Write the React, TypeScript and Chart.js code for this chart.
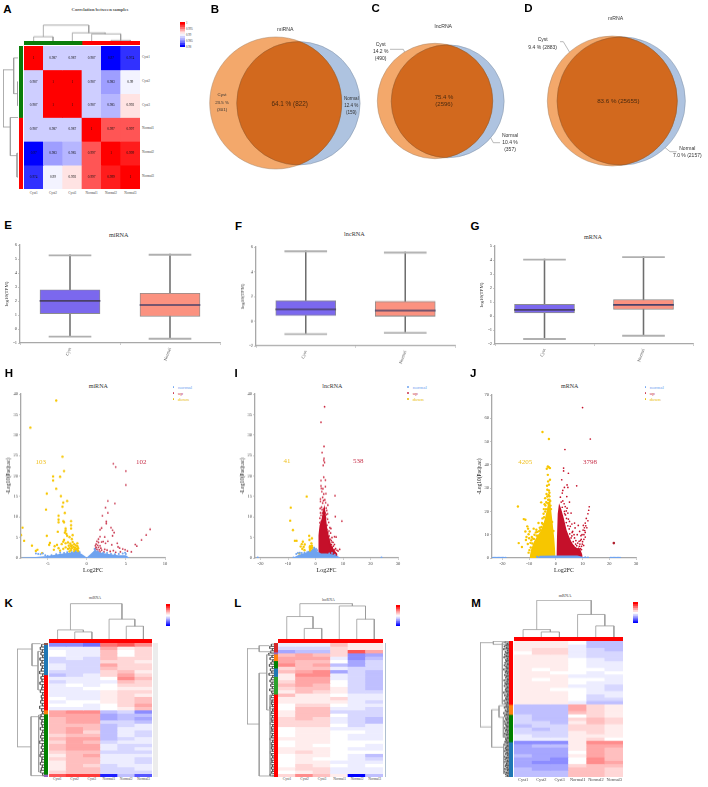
import React, { useEffect, useRef } from "react";
import { Chart, registerables } from "chart.js";

Chart.register(...registerables);

const SERIF = "'Liberation Serif'";
const SANS = "'Liberation Sans'";
const BLUE = "#6FA3EF";
const RED = "#C5102A";
const YEL = "#F7C600";

/* ---------- A: correlation ---------- */
const sampleNames = ["Cyst1", "Cyst2", "Cyst3", "Normal1", "Normal2", "Normal3"];
const corrRows = [
  [1, 0.987, 0.987, 0.987, 0.97, 0.974],
  [0.987, 1, 1, 0.987, 0.983, 0.99],
  [0.987, 1, 1, 0.987, 0.985, 0.992],
  [0.987, 0.987, 0.987, 1, 0.997, 0.997],
  [0.97, 0.983, 0.985, 0.997, 1, 0.999],
  [0.974, 0.99, 0.992, 0.997, 0.999, 1],
];
const corrBarValues = [[1], [0.998], [0.996], [0.994], [0.992], [0.99], [0.987], [0.984], [0.98], [0.975], [0.97]];
const corrBarTicks = ["1", "0.995", "0.99", "0.985", "0.98"];
const corrTopTree = [[12, 0.5, 1.5, 0, 0], [23, 2.5, 4.2, 0, 20], [20, 3.5, 5, 0, 1], [2, 4.5, 5.5, 0, 0], [45, 1, 3.35, 12, 23]];
const corrLeftTree = [[1, 1.5, 2.5, 0, 0], [13, 0.5, 2, 0, 1], [3, 4.5, 5.5, 0, 0], [23, 3, 4.6, 0, 3], [45, 1, 3.4, 13, 23]];

/* ---------- B C D: venn ---------- */
const miCounts = [301, 822, 159];
const lncCounts = [490, 2596, 357];
const mCounts = [2883, 25655, 2157];
const miCenters = [[70.7, 83], [93.4, 83.3]];
const lncCenters = [[63, 81], [75.7, 81.3]];
const mCenters = [[72.3, 81], [81.2, 81]];
const lncLeaders = [[[18, 29.3], [31.3, 29.3], [34, 35]], [[116.3, 113.3], [121.3, 122.7], [128, 122.7]]];
const mLeaders = [[[20, 21.7], [23.3, 21.7], [30.7, 34]], [[124, 126.7], [130, 131.7], [136.7, 131.7]]];

/* ---------- E F G: box plots [min,q1,med,q3,max] ---------- */
const boxGroups = ["Cyst", "Normal"];
const miBox = [[-0.5, 1.1, 2.05, 2.8, 5.3], [-0.65, 0.9, 1.75, 2.55, 5.35]];
const lncBox = [[-1.0, 0.45, 1.0, 1.65, 5.7], [-0.9, 0.4, 0.9, 1.6, 5.6]];
const mBox = [[-1.6, 0.22, 0.47, 0.83, 4.07], [-1.37, 0.47, 0.83, 1.17, 4.25]];

/* ---------- H I J: volcano ---------- */
const hDown = [[-3.9,38.4],[-7.2,31.8],[-3.1,24.7],[-2.9,21.2],[-4.3,19.9],[-4.3,18.9],[-3.4,19.8],[-3.9,16.9],[-5.1,15.7],[-3.3,15.1],[-2.5,13.9],[-3,13.5],[-3.1,12.5],[-5.2,11.8],[-2.8,11],[-3.6,10.3],[-3.6,9.4],[-2,9],[-3,9],[-2.9,8.7],[-3.6,8.7],[-2,8],[-2,7.2],[-2.7,7.2],[-2.7,6.7],[-3.7,6.4],[-5.1,5.4],[-8.2,7.4],[-8.4,5.6],[-8,4.2],[-7,3],[-6.5,1.7],[-6.3,2],[-4.7,3.7],[-4.8,3.2],[-4.1,2.9],[-3.8,3.2],[-5.7,1.2],[-2.8,6.2],[-2.6,5.9],[-2.5,5.4],[-2.2,5.1],[-1.8,5.6],[-1.9,4.6],[-2.9,4.4],[-3,4],[-3.2,3.4],[-2.7,3.6],[-2.4,3.8],[-2.1,3.5],[-1.8,3.9],[-1.6,3.4],[-1.4,3.1],[-2.3,3],[-2,2.9],[-1.9,2.4],[-1.7,2.7],[-1.5,2.5],[-1.3,2.3],[-1.2,2],[-1.1,1.7],[-1.4,1.9],[-1.6,1.6],[-2,1.9],[-2.4,2.2],[-2.7,2.6],[-3,2.2],[-3.4,1.8],[-3.6,2.4],[-4.2,2],[-1.2,2.9],[-1.1,2.4],[-1.5,1.4],[-2.2,1.6],[-1.3,1.3],[-1.05,1.4],[-1.9,3.1],[-2.2,2.4],[-1.6,2.1],[-1.2,3.6]];
const hUp = [[3.4,23],[3.7,22.2],[5,21.2],[5,17.8],[2.7,13.9],[3.6,13.3],[2.4,12.3],[2.7,11],[2,10.3],[2.5,8.9],[2.5,8.4],[8.1,7],[7.6,5.6],[7,4.4],[6.2,3.3],[6.4,2.9],[5.2,1.7],[1.9,7.3],[1.7,6.9],[3.1,7.4],[3.3,6.8],[3.5,6.2],[3.3,5.4],[1.7,5.2],[2.3,5.1],[1.5,4.6],[1.3,4.1],[1.5,3.8],[1.9,3.9],[2.1,4],[2.7,4.1],[2.4,3.6],[3.2,3.2],[3.9,3.6],[4,2.7],[4.2,2.4],[4.6,2.2],[4.9,2],[1.2,3.4],[1.4,3.1],[1.1,3],[1.7,3],[1.2,2.6],[1.5,2.6],[1.8,2.4],[1.1,2.3],[1.3,2.1],[1.6,2],[1.9,1.9],[2.3,2.1],[2.6,1.9],[3,1.6],[3.4,1.8],[1.1,1.7],[1.4,1.6],[1.7,1.5],[2.2,1.5],[3.7,1.4],[4.3,1.5],[5.7,1.5]];
const hNormal = [[-6.5,1.1],[-6.2,1],[-5.9,0.9],[-5.6,1.1],[-5.3,0.7],[-5,0.5],[-4.5,0.7],[-3.9,0.9],[-3.4,1.3],[-2.9,1.2],[-2.5,1.4],[-1.9,1.4],[-1.4,1.6],[-0.9,1.4],[1,2.2],[1.1,1.9],[1.4,1.6],[2.1,1.3],[2.6,1.2],[3.1,1],[3.6,0.9],[4.1,1],[4.6,1.1],[4.9,1.3],[5,1]];
const hBand = [[-8.3,0.15],[-6.5,0.25],[-5,0.5],[-4,0.8],[-3.5,1],[-2.5,1.2],[-1.5,1.5],[-1,1.4],[-0.5,0.8],[0,0.15],[0.5,1],[1,1.9],[1.5,1.5],[2,1.2],[3,0.9],[4,0.7],[5,0.7],[5.4,0.15]];

const iDown = [[-3.2,15],[-9,12.3],[-9.2,9.1],[-8.2,6.8],[-7.5,4.2],[-6.9,4.2],[-4.6,4],[-2.3,5.4],[-1.3,4.8],[-2.2,4.4],[-5,3.4],[-3.9,3.3],[-4.3,2.7],[-5.4,2.8],[-4.8,2.2],[-2,2.9],[-1.3,3],[-1.6,2.4],[-2,2],[-1.3,1.7],[-2.3,1.5],[-1,2.1],[-1.7,1.3],[-5.9,1.1],[-1.5,3.6],[-1.8,1.8],[-1.2,2.6],[-1.1,1.4],[-1.5,1.6],[-2.1,2.5],[-4,1.9]];
const iUp = [[3.3,36.9],[2,33.1],[3.1,27.2],[2.4,25.7],[3.1,24.3],[3,23.8],[3.3,23.3],[2.8,22.6],[2,18.9],[3.6,19],[2,17.6],[3.6,17.4],[2.3,16.2],[7.1,15.2],[1.8,13.8],[4.5,12.9],[7.2,10.1],[9.6,9],[6.9,5.2],[7.5,5.1],[8.8,2.1],[8.2,1.7],[5.4,2.8],[3,19.7],[2.1,17],[3,15.6],[2.6,14.8],[3.4,14.2],[1.8,14.4],[2.6,13.4],[3.7,13.5],[4.1,11.6],[2.2,12.4],[3.1,12],[3.5,11],[2.5,11],[4,10.6],[3,10.5],[2,10.4],[3.7,9.8],[4.4,9.5],[4.8,8.7],[5.2,7.4],[4.2,8],[4.9,6.6],[5.5,6.1],[6,5],[5.7,4.3],[6.4,3.8],[6.9,3.3],[6.1,2.6],[7.3,2.3],[7.8,1.9],[5.8,3.3],[4.7,5.2],[2.1,9],[3.2,8.7],[4.1,7],[1.6,9.7],[1.7,12.1],[2.7,16.9],[3.8,15.7],[2.9,14],[2.4,11.8],[2.9,11.4],[3.5,10.2],[1.8,11],[1.6,8.6],[2,7.8],[4.5,6.2],[5,5.4],[5.3,4.6],[6.5,2.9],[7,2],[5,3.6],[6,3.9],[4.4,10.8],[5.6,7.2],[3.9,12.2]];
const iRedBlock = [[1,0.8],[1.03,5.5],[1.5,8],[2.2,9.5],[2.9,12],[3.3,13],[3.8,10],[4.2,7.5],[4.8,5.5],[5.5,3.6],[6,2.8],[7,1.8],[8,1]];
const iNormal = [[-21,0.1],[-8,0.1],[24,0.1],[-7,1],[-6.4,1.2],[-5.7,1.3],[-5,1.2],[-4,1.3],[-3,1.4],[-2.5,1.5],[-0.5,2.5],[0.2,2.2],[0.6,1.9],[5,1.1],[6,1.2],[7,0.8]];
const iBand = [[-8,0.15],[-6,0.8],[-4,1.2],[-2,1.5],[-1,2.2],[-0.3,2.6],[0.5,1.7],[2,1.1],[4,1.1],[6,0.9],[7.5,0.6],[9,0.15]];

const jDown = [[-5,54.1],[-2.6,51.1],[-14.2,22.1],[-13.9,6.4],[-12.7,4.7],[-11.4,11.4],[-12,16.7],[-11.4,16.4],[-10.7,13.6],[-10.4,12.6],[-9.8,11.4],[-8.3,12.6],[-7.3,12.1],[-5.5,23.9],[-4.2,23.1],[-4,25.7],[-3.2,26.4],[-2.7,27.1],[-3.2,29.3],[-2.9,32.9],[-2.2,33.6],[-3,35.7],[-2.2,38.6],[-3,39.3],[-2.6,39],[-3.4,38.3],[-3.7,21],[-5,17],[-6.5,15],[-7.5,11],[-9,9],[-10,8.5],[-10.5,6],[-9.5,6.5],[-11,9],[-8,10],[-6,13],[-5.2,15],[-4.6,19],[-2.4,25],[-2.6,29],[-2.1,24.5],[-3.6,24],[-4.5,21],[-10.2,10.2],[-9.2,7.6],[-8.7,8.4],[-7,11.2],[-6.8,9.6],[-5.8,12],[-11.2,7.7],[-2.4,26.5],[-2.9,25],[-3.1,23.5],[-2.5,23.6],[-2,22.5],[-1.8,21],[-4,20],[-4.4,17.5],[-4.8,14.5],[-5.4,13.3],[-6.3,11.5],[-7.2,9.6],[-8.2,8.2],[-8.8,6.2],[-9.4,4.5],[-9.9,3.4],[-10.2,2.3],[-3.3,31],[-2.6,31.5],[-2.4,28],[-3.5,27.5],[-3.9,22.5],[-1.4,15.5],[-0.9,11.6]];
const jDownBlock = [[-9.8,0.5],[-9.3,3.5],[-8.2,7],[-7,9.5],[-6,11],[-5,13.5],[-4.2,16.5],[-3.5,20],[-2.8,24],[-2.2,25],[-1.8,21],[-1.2,15],[-0.6,8.5],[-0.1,0.7]];
const jUp = [[10,64.6],[12.9,51.1],[3.4,46.6],[2.9,38.6],[2.9,37.4],[2.2,33.6],[4.7,36.4],[7.8,31],[4.2,31.4],[4.5,30.3],[3.2,30.3],[2.4,27.9],[2.6,29],[1.7,26.1],[4.1,26.4],[5.1,24],[2,24],[3.5,22.1],[4.2,21.4],[4.5,19.3],[3.2,20],[5.7,19.3],[5.1,15.7],[6,14.6],[7,15],[7.2,12.9],[8.4,14],[8,10],[8.9,11.4],[6.3,11.4],[5.7,8.6],[7,8.6],[8.5,4],[9,6],[9.5,8],[9.8,10],[10.2,12],[10.7,13],[11,15],[11.4,17],[12,19],[12.5,22],[12.3,20.5],[10.5,10],[11,11],[10,7],[9.6,5],[9.2,4],[10.5,8],[11,9],[10.3,14],[11.6,13],[12,16],[9.2,7.5],[8.8,5],[9.4,9.6],[6.5,7],[7.4,6],[7.8,5.3],[6,9.5],[5,12.5],[4,17],[3.6,18.5],[2.6,24.5],[3.1,23.3],[3.9,20.2],[4.7,16.7],[5.4,13.6],[6.1,11],[6.8,10],[7.5,7.5],[8.2,6.4],[8.7,7.2],[5.2,10.4],[4.5,13.8],[3.9,15.2],[3.3,19],[2.4,21.8],[10.8,11.8],[11.2,13.8],[9.9,6],[10.4,5.4],[9.6,3.6],[8.4,2.8],[7.7,3.9],[6.6,5.2],[5.8,6.4]];
const jUpBlock = [[0.2,0.8],[0.7,19],[1.2,23.5],[2,21],[3,17],[4,12],[5,9],[6,6.5],[7,5],[8,4.2],[8.6,4.5],[9.2,3.5],[10,1.2]];
const jOutlier = [[21.7,6.4]];
const jNormal = [[-23.5,0.1],[-23,0.1],[-22.5,0.1],[-22,0.1],[-21.5,0.1],[-21,0.1],[-20.5,0.1],[-20,0.1],[-19.5,0.1],[-18.8,0.1],[20.5,0.1],[21,0.1],[21.5,0.1],[22,0.1],[22.5,0.1],[23,0.1],[23.5,0.1],[24,0.1],[-7,0.5],[11,0.3],[12,0.2]];
const jBand = [[-7,0.15],[-6,1],[-1,1.1],[1,1.1],[8,1.1],[10,0.5],[11,0.15]];

/* ---------- K L M: expression heat maps (tenths of the colour range) ---------- */
const kRows = [
  [-5,-5,-6,6,7,5],[-1,-1,-1,4,1,2],[0,-1,-1,3,0,2],[0,-1,-1,3,0,2],[-2,-1,-2,3,2,2],[-2,-2,-2,2,2,1],[-1,-2,-2,4,2,2],[-1,-2,-2,3,2,2],[-2,-2,-2,2,3,1],[-3,-2,-1,2,4,2],
  [-1,-1,-1,0,5,3],[-2,-1,-1,-1,3,2],[-1,0,-1,0,2,2],[-1,-1,0,0,1,1],[-1,-1,-1,1,2,2],[-1,-1,-1,1,2,1],[0,-1,-1,1,2,3],[-1,0,0,1,2,3],[0,0,-1,0,2,4],[-1,-1,-1,0,1,3],
  [4,5,5,-3,-2,-5],[4,4,4,-4,-3,-3],[3,4,4,-4,-3,-4],[3,4,4,-2,-2,-3],[3,3,3,-3,-2,-1],[3,4,3,-3,-1,-1],[3,4,2,-3,-1,-2],[2,3,3,-3,-1,-2],[3,4,4,-3,-2,-1],[2,4,3,-2,-1,-1],
  [3,4,4,-1,-2,-2],[3,4,4,-1,-2,-1],[2,3,3,-2,-2,-2],[1,3,4,-1,-1,-1],[2,3,3,-1,-1,-2],[1,3,3,-1,-1,-2],[1,3,2,-2,-1,-1],[1,3,3,-2,-2,-1],[2,3,3,-2,-2,-2],[7,8,8,-9,-3,-7],
];
const lRows = [
  [-1,-1,-1,3,1,1],[-2,-2,-2,2,1,1],[-4,-3,-3,2,7,4],[3,4,3,2,-5,-4],[4,4,4,-1,-5,-3],[4,3,3,0,-4,-2],[5,3,4,-3,-4,-2],[2,3,3,-1,-2,-2],[3,4,5,-4,-2,-3],[1,5,5,-1,-2,-3],
  [1,4,4,-1,-2,-3],[2,4,4,0,-2,-3],[3,4,3,0,-2,-3],[2,3,3,1,-2,-3],[1,3,2,1,-2,-2],[3,1,1,0,-1,-1],[1,1,1,2,-1,-1],[1,1,1,1,-1,-2],[0,2,2,0,-1,-1],[0,3,3,-1,-1,-2],
  [1,3,3,-2,-2,-2],[1,3,3,0,-2,-2],[2,3,2,-1,-2,-3],[2,2,2,-1,-2,-3],[2,2,2,0,-2,-1],[0,1,1,-1,-1,-1],[0,1,1,0,0,-1],[0,1,1,0,-1,-1],[1,1,1,0,-1,-1],[0,1,1,0,0,0],
  [0,1,0,0,0,-1],[1,1,1,0,-1,-1],[1,2,1,0,0,0],[0,1,1,0,-1,-3],[0,1,0,0,-1,-2],[0,1,1,-1,-1,-1],[0,2,1,0,-1,0],[1,2,2,-1,-1,-1],[0,1,2,-1,-1,-1],[2,5,3,1,-10,-3],
];
const mRows = [
  [1,1,1,0,-3,-3],[1,1,1,-1,-3,-3],[1,2,2,-1,-2,-3],[0,2,2,-1,-2,-2],[1,1,1,-1,-2,-2],[1,1,1,0,-1,-2],[1,1,1,0,-1,-1],[1,1,1,0,-1,-1],[1,0,1,0,0,-1],[1,1,0,0,-1,0],
  [1,1,1,-1,-1,-1],[1,0,1,0,0,-1],[1,1,1,0,-1,-1],[1,1,1,-1,-1,-2],[1,1,0,0,-1,-2],[1,1,1,0,-1,-1],[1,1,1,0,-2,-1],[1,1,1,0,-2,-2],[1,1,1,-1,-3,-3],
  [-3,-3,-3,4,2,1],[-3,-3,-3,4,2,1],[-3,-3,-3,3,2,1],[-2,-3,-3,0,2,1],[-2,-3,-3,2,3,2],[-2,-2,-3,1,3,2],[-3,-2,-2,2,2,1],[-2,-3,-2,2,2,1],[-2,-2,-2,1,2,1],[-1,-2,-2,1,1,1],[-1,-1,-1,1,2,0],
  [-5,-5,-5,1,5,5],[-4,-3,-3,1,4,4],[-4,-4,-4,1,4,3],[-4,-4,-4,0,4,3],[-3,-4,-4,1,4,3],[-4,-4,-5,0,5,3],[-4,-5,-5,0,5,4],[-4,-4,-4,2,3,3],[-3,-4,-4,3,3,2],[-3,-3,-3,3,3,2],[-3,-3,-3,3,3,2],
];
const heatBarValues = [[10],[8],[6],[4],[2],[0],[-2],[-4],[-6],[-8],[-10]];
const kTop = [[21,1.5,2.5,0,0],[27,0.5,2,0,21],[38,4.5,5.5,0,0],[59,3.5,5,0,38],[105,1.25,4.25,27,59]];
const lTop = [[32,1.5,2.5,0,0],[68,0.5,2,0,32],[60,4.5,5.5,0,0],[100,3.5,5,0,60],[107,1.25,4.25,68,100]];
const mTop = [[15,1.5,2.5,0,0],[22,0.5,2,0,15],[33,4.5,5.5,0,0],[67,3.5,5,0,33],[109,1.25,4.25,22,67]];
const kLeft = [[81,1.8,31,36,39],[36,0.2,6.8,10,18],[18,2.5,14,8,8],[39,22,39.6,16,0],[16,21.5,38.5,8,8]];
const lLeft = [[82,1.7,24.2,45,45],[45,0.8,2.6,14,10],[45,9,39.7,22,0],[22,3.5,20,12,10],[12,15.5,39,3,3]];
const mLeft = [[87,0.5,25.9,47,52],[47,0.1,1,10,8],[20,0.5,19,8,8],[52,20.7,32,30,16],[30,19.5,23,6,17],[17,23,29,5,5],[16,31,40,5,5]];
const kTwigs = [7,11,5,9,4,12,6,10,5,8,13,4,9,6,12,5,7,11,4,8,6,10,5,13,7,4,9,12,6,8,5,11,4,7,10,6,13,5,8,4,9,12,6,7,11,5,8,10,4,6];
const lTwigs = [8,13,5,10,16,6,12,4,9,14,5,11,7,15,4,8,12,6,10,5,13,7,4,9,11,6,8,5,12,4,7,10,5,9,6,11,4,8,6,10,5,7,12,4,9,6,8,5,11,7,4,9,6,10,5,8,4,7,12,6];
const mTwigs = [12,5,9,14,7,16,4,11,6,13,8,15,5,10,7,12,4,14,9,6,16,8,11,5,13,7,10,4,15,6,12,8,14,5,9,11,7,16,4,13,6,10,8,15,5,12,7,9,14,4,11,6,16,8,13,5,10,7,15,4,12,9,6,14,8,11,5,13,7,16,4,10,8,12,6,15,5,9,11,7,13,6,10,4,14,8,12,5,16,7,9,11,6,13,4,15,8,10,5,12];
const kStrip = [0.5, 9, 10.5, 1.2, 18, 0.8];
const kStripColors = ["#8C564B", "#1F77B4", "#FF0000", "#FF7F0E", "#008000", "#9467BD"];
const lStrip = [2.7, 0.6, 2, 2.2, 2.5, 5.3, 24.7];
const lStripColors = ["#D62728", "#9467BD", "#FF7F0E", "#008000", "#1F77B4", "#2CA02C", "#FF0000"];
const mStrip = [19, 3, 8.2, 10.5];
const mStripColors = ["#FF0000", "#FF7F0E", "#008000", "#1F77B4"];

/* ---------- helpers ---------- */
const base = {
  responsive: false,
  maintainAspectRatio: false,
  animation: false,
  events: [],
  layout: { autoPadding: false },
  plugins: { legend: { display: false }, tooltip: { enabled: false } },
};
const pts = (a: number[][]) => a.map(([x, y]) => ({ x, y }));

const heatColor = (v: number) => {
  const t = Math.pow(Math.abs(v) / 10, 1.15);
  const c = Math.round(255 * (1 - t));
  return v >= 0 ? `rgb(255,${c},${c})` : `rgb(${c},${c},255)`;
};
const corrColor = (v: number) => {
  if (v >= 0.991) {
    const c = Math.round(255 * (1 - (v - 0.991) / 0.009));
    return `rgb(255,${c},${c})`;
  }
  const c = Math.round(255 * (1 - (0.991 - v) / 0.021));
  return `rgb(${c},${c},255)`;
};

function heatConfig(rows: number[][], color: (v: number) => string, plugins: any[] = []) {
  return {
    type: "bar",
    data: {
      labels: rows[0].map((_, i) => i),
      datasets: rows.map((r) => ({
        data: r.map(() => 1),
        backgroundColor: r.map(color),
        borderWidth: 0,
        barPercentage: 1,
        categoryPercentage: 1,
      })),
    },
    options: {
      ...base,
      scales: {
        x: { display: false, stacked: true },
        y: { display: false, stacked: true, min: 0, max: rows.length, reverse: true },
      },
    },
    plugins,
  };
}

function stripConfig(sizes: number[], colors: string[], horizontal: boolean) {
  const total = sizes.reduce((a, b) => a + b, 0);
  const value = { display: false, stacked: true, min: 0, max: total, reverse: !horizontal };
  const cat = { display: false, stacked: true };
  return {
    type: "bar",
    data: {
      labels: [""],
      datasets: sizes.map((s, i) => ({
        data: [s],
        backgroundColor: colors[i],
        borderWidth: 0,
        barPercentage: 1,
        categoryPercentage: 1,
      })),
    },
    options: {
      ...base,
      indexAxis: horizontal ? "y" : "x",
      scales: horizontal ? { x: value, y: cat } : { x: cat, y: value },
    },
  };
}

function treeConfig(
  brackets: number[][],
  side: "top" | "left",
  posMax: number,
  hMax: number,
  twigs: number[] = [],
) {
  const path: { x: number; y: number }[] = [];
  const put = (p: number, h: number) =>
    path.push(side === "top" ? { x: p, y: h } : { x: h, y: p });
  brackets.forEach(([h, p0, p1, h0, h1]) => {
    put(p0, h0);
    put(p0, h);
    put(p1, h);
    put(p1, h1);
    path.push({ x: NaN, y: NaN });
  });
  const twigPath: { x: number; y: number }[] = [];
  twigs.forEach((t, i) => {
    const p = ((i + 0.5) * posMax) / twigs.length;
    const q = ((i + 1.5) * posMax) / twigs.length;
    twigPath.push({ x: 0, y: p }, { x: t, y: p });
    if (i < twigs.length - 1) twigPath.push({ x: t, y: q });
  });
  const line = (data: any[], color: string, w: number) => ({
    data,
    showLine: true,
    pointRadius: 0,
    borderColor: color,
    borderWidth: w,
    tension: 0,
    clip: false,
    spanGaps: false,
  });
  const pos = { type: "linear", display: false, min: 0, max: posMax };
  const hgt = { type: "linear", display: false, min: 0, max: hMax };
  return {
    type: "scatter",
    data: { datasets: [line(path, "#9a9a9a", 0.8), line(twigPath, "#444", 0.6)] },
    options: {
      ...base,
      scales:
        side === "top"
          ? { x: pos, y: hgt }
          : { x: { ...hgt, reverse: true }, y: { ...pos, reverse: true } },
    },
  };
}

function vennConfig(
  counts: number[],
  centers: number[][],
  scale: number,
  w: number,
  h: number,
  leaders: number[][][] = [],
) {
  const [onlyA, both, onlyB] = counts;
  const rA = scale * Math.sqrt(onlyA + both);
  const rB = scale * Math.sqrt(onlyB + both);
  const lens = {
    id: "lens",
    afterDatasetsDraw(chart: any) {
      const sx = chart.scales.x;
      const sy = chart.scales.y;
      const ax = sx.getPixelForValue(centers[0][0]);
      const ay = sy.getPixelForValue(centers[0][1]);
      const bx = sx.getPixelForValue(centers[1][0]);
      const by = sy.getPixelForValue(centers[1][1]);
      const ctx = chart.ctx;
      ctx.save();
      ctx.beginPath();
      ctx.arc(ax, ay, rA, 0, Math.PI * 2);
      ctx.clip();
      ctx.beginPath();
      ctx.arc(bx, by, rB, 0, Math.PI * 2);
      ctx.fillStyle = "#D2691E";
      ctx.fill();
      ctx.strokeStyle = "#8a5a35";
      ctx.lineWidth = 0.5;
      ctx.stroke();
      ctx.restore();
      ctx.save();
      ctx.beginPath();
      ctx.arc(bx, by, rB, 0, Math.PI * 2);
      ctx.clip();
      ctx.beginPath();
      ctx.arc(ax, ay, rA, 0, Math.PI * 2);
      ctx.strokeStyle = "#8a5a35";
      ctx.lineWidth = 0.5;
      ctx.stroke();
      ctx.restore();
    },
  };
  return {
    type: "scatter",
    data: {
      datasets: [
        {
          data: [{ x: centers[0][0], y: centers[0][1] }],
          pointRadius: rA,
          pointBackgroundColor: "#F3A86B",
          pointBorderColor: "#a98a70",
          pointBorderWidth: 0.5,
          clip: false,
          order: 1,
        },
        {
          data: [{ x: centers[1][0], y: centers[1][1] }],
          pointRadius: rB,
          pointBackgroundColor: "#AEC3E0",
          pointBorderColor: "#7f8ea3",
          pointBorderWidth: 0.5,
          clip: false,
          order: 2,
        },
        ...leaders.map((l) => ({
          data: pts(l),
          showLine: true,
          pointRadius: 0,
          borderColor: "#8a8a8a",
          borderWidth: 0.6,
          order: 3,
        })),
      ],
    },
    options: {
      ...base,
      scales: {
        x: { type: "linear", display: false, min: 0, max: w },
        y: { type: "linear", display: false, min: 0, max: h, reverse: true },
      },
    },
    plugins: [lens],
  };
}

const AX = "#a8a8a8";
function axisLines(o: any) {
  return {
    border: { color: AX, width: o.bw ?? 1.3 },
    grid: { drawOnChartArea: false, color: AX, tickLength: 2, lineWidth: 0.6 },
  };
}

function boxConfig(box: number[][], yMin: number, yMax: number, step: number, l: number, b: number) {
  const yVals: number[] = [];
  for (let v = yMin; v <= yMax; v += step) yVals.push(v);
  const fills = ["#7B68EE", "#FB9280"];
  const bar = (data: any[], extra: any) => ({
    data,
    grouped: false,
    barPercentage: 1,
    categoryPercentage: 1,
    borderSkipped: false,
    ...extra,
  });
  return {
    type: "bar",
    data: {
      labels: boxGroups,
      datasets: [
        bar(box.map((r) => [r[2], r[2]]), { barThickness: 60, minBarLength: 1, backgroundColor: "#4a4068", order: 0 }),
        bar(box.map((r) => [r[1], r[3]]), { barThickness: 60, backgroundColor: fills, borderColor: "#8c8c8c", borderWidth: 0.9, order: 1 }),
        bar(box.map((r) => [r[0], r[0]]), { barThickness: 42, minBarLength: 1.2, backgroundColor: "#b0b0b0", order: 2 }),
        bar(box.map((r) => [r[4], r[4]]), { barThickness: 42, minBarLength: 1.2, backgroundColor: "#b0b0b0", order: 2 }),
        bar(box.map((r) => [r[0], r[4]]), { barThickness: 0.9, backgroundColor: "#6e6e6e", order: 3 }),
      ],
    },
    options: {
      ...base,
      layout: { autoPadding: false, padding: { top: 4, right: 4 } },
      scales: {
        x: {
          ...axisLines({}),
          ticks: { font: { family: SERIF, size: 4.5 }, color: "#444", minRotation: 70, maxRotation: 70, padding: 2 },
          afterFit(s: any) { s.height = b; },
        },
        y: {
          ...axisLines({}),
          min: yMin,
          max: yMax,
          afterBuildTicks(s: any) { s.ticks = yVals.map((value) => ({ value })); },
          ticks: { font: { family: SERIF, size: 4.5 }, color: "#444", padding: 1 },
          title: { display: true, text: "log10(TPM)", font: { family: SERIF, size: 5 }, color: "#333", padding: 0 },
          afterFit(s: any) { s.width = l; },
        },
      },
    },
  };
}

function volcanoConfig(o: {
  blocks: { d: number[][]; c: string; order: number }[];
  scatter: { d: number[][]; c: string; r: number; order: number }[];
  xMin: number; xMax: number; yMax: number; xT: number[]; yT: number[];
  yTitle: string; l: number; b: number;
}) {
  return {
    type: "scatter",
    data: {
      datasets: [
        ...o.blocks.map((k) => ({
          data: pts(k.d),
          showLine: true,
          pointRadius: 0,
          borderWidth: 0,
          borderColor: k.c,
          backgroundColor: k.c,
          fill: "origin",
          tension: 0,
          order: k.order,
        })),
        ...o.scatter.map((k) => ({
          data: pts(k.d),
          pointRadius: k.r,
          pointBorderWidth: 0,
          backgroundColor: k.c,
          order: k.order,
        })),
      ],
    },
    options: {
      ...base,
      layout: { autoPadding: false, padding: { top: 4, right: 4 } },
      scales: {
        x: {
          type: "linear",
          min: o.xMin,
          max: o.xMax,
          ...axisLines({}),
          afterBuildTicks(s: any) { s.ticks = o.xT.map((value) => ({ value })); },
          ticks: { font: { family: SERIF, size: 4.5 }, color: "#444", padding: 1, maxRotation: 0 },
          title: { display: true, text: "Log2FC", font: { family: SERIF, size: 6 }, color: "#222", padding: 0 },
          afterFit(s: any) { s.height = o.b; },
        },
        y: {
          type: "linear",
          min: 0,
          max: o.yMax,
          ...axisLines({}),
          afterBuildTicks(s: any) { s.ticks = o.yT.map((value) => ({ value })); },
          ticks: { font: { family: SERIF, size: 4.5 }, color: "#444", padding: 1 },
          title: { display: true, text: o.yTitle, font: { family: SERIF, size: 5.5 }, color: "#222", padding: 0 },
          afterFit(s: any) { s.width = o.l; },
        },
      },
    },
  };
}

const cellText = {
  id: "cellText",
  afterDatasetsDraw(chart: any) {
    const ctx = chart.ctx;
    ctx.save();
    ctx.font = `3.4px ${SERIF}`;
    ctx.fillStyle = "#111";
    ctx.textAlign = "center";
    ctx.textBaseline = "middle";
    chart.data.datasets.forEach((_: any, r: number) => {
      chart.getDatasetMeta(r).data.forEach((el: any, c: number) => {
        const mid = el.getCenterPoint();
        ctx.fillText(String(corrRows[r][c]), mid.x, mid.y);
      });
    });
    ctx.restore();
  },
};

/* ---------- components ---------- */
function Cv({ x, y, w, h, make }: { x: number; y: number; w: number; h: number; make: () => any }) {
  const ref = useRef<HTMLCanvasElement>(null);
  useEffect(() => {
    const chart = new Chart(ref.current as any, make());
    return () => chart.destroy();
  }, []);
  return <canvas ref={ref} width={w} height={h} style={{ position: "absolute", left: x, top: y, width: w, height: h }} />;
}

function Lab({ x, y, t, s = 5, f = SANS, c = "#333", b = false, left = false }: any) {
  return (
    <div
      style={{
        position: "absolute",
        left: x,
        top: y,
        transform: left ? "translate(0,-50%)" : "translate(-50%,-50%)",
        font: `${b ? "bold " : ""}${s}px ${f}`,
        color: c,
        whiteSpace: "nowrap",
        lineHeight: 1,
      }}
    >
      {t}
    </div>
  );
}

function Legend({ dot, tx }: { dot: number; tx: number }) {
  const items = [["normal", BLUE, 387], ["up", "#C8324B", 393], ["down", "#E8B800", 399]] as any[];
  return (
    <>
      {items.map(([t, c, y]) => (
        <React.Fragment key={t}>
          <div style={{ position: "absolute", left: dot - 0.8, top: y - 0.8, width: 1.6, height: 1.6, borderRadius: 1, background: c }} />
          <Lab x={tx} y={y} t={t} s={5} f={SERIF} c={c} left />
        </React.Fragment>
      ))}
    </>
  );
}

function HeatPanel({ cx, cy, cw, ch, rows, topTree, topH, topY, stripY, stripH, stripX, stripW, sizes, colors, left, leftX, leftW, leftMax, twigs, bar, labelY, labelSize }: any) {
  return (
    <>
      <Cv x={cx} y={cy} w={cw} h={ch} make={() => heatConfig(rows, heatColor)} />
      <Cv x={cx} y={topY} w={cw} h={stripY - topY} make={() => treeConfig(topTree, "top", 6, topH)} />
      <Cv x={cx} y={stripY} w={cw} h={stripH} make={() => stripConfig([1], ["#FF0000"], true)} />
      <Cv x={stripX} y={cy} w={stripW} h={ch} make={() => stripConfig(sizes, colors, false)} />
      <Cv x={leftX} y={cy} w={leftW} h={ch} make={() => treeConfig(left, "left", rows.length, leftMax, twigs)} />
      <Cv x={bar[0]} y={bar[1]} w={bar[2]} h={bar[3]} make={() => heatConfig(heatBarValues, heatColor)} />
      {sampleNames.map((n, i) => (
        <Lab key={n} x={cx + ((i + 0.5) * cw) / 6} y={labelY} t={n} s={labelSize} f={SERIF} c="#444" />
      ))}
    </>
  );
}

export default function App() {
  return (
    <div style={{ position: "absolute", left: 0, top: 0, width: 708, height: 787, background: "#fff", overflow: "hidden", filter: "blur(0.3px)" }}>
      {/* A */}
      <Cv x={24} y={46} w={116} h={143} make={() => heatConfig(corrRows, corrColor, [cellText])} />
      <Cv x={24} y={24} w={116} h={16.5} make={() => treeConfig(corrTopTree, "top", 6, 48)} />
      <Cv x={3.3} y={46} w={15} h={143} make={() => treeConfig(corrLeftTree, "left", 6, 45)} />
      <Cv x={24} y={41} w={116} h={4} make={() => stripConfig([3, 3], ["#0A7D0A", "#FF0000"], true)} />
      <Cv x={19} y={46} w={3.7} h={143} make={() => stripConfig([3, 3], ["#0A7D0A", "#FF0000"], false)} />
      <Cv x={180} y={22} w={5} h={25} make={() => heatConfig(corrBarValues, corrColor)} />
      {corrBarTicks.map((t, i) => (
        <Lab key={t} x={186} y={23 + i * 6} t={t} s={3} f={SERIF} c="#444" left />
      ))}
      <Lab x={100} y={9.5} t="Correlation between samples" s={4.6} f={SERIF} b c="#555" />
      {sampleNames.map((n, i) => (
        <React.Fragment key={n}>
          <Lab x={24 + (i + 0.5) * 19.33} y={193.7} t={n} s={3.4} f={SERIF} c="#444" />
          <Lab x={142} y={46 + (i + 0.5) * 23.83} t={n} s={3.4} f={SERIF} c="#444" left />
        </React.Fragment>
      ))}

      {/* B C D */}
      <Cv x={205} y={20} w={165} h={160} make={() => vennConfig(miCounts, miCenters, 1.97, 165, 160)} />
      <Cv x={372} y={20} w={140} h={150} make={() => vennConfig(lncCounts, lncCenters, 1.039, 140, 150, lncLeaders)} />
      <Cv x={540} y={20} w={160} h={155} make={() => vennConfig(mCounts, mCenters, 0.3848, 160, 155, mLeaders)} />
      <Lab x={285.3} y={30} t="miRNA" s={5.2} />
      <Lab x={289.7} y={104} t="64.1 % (822)" s={6.4} c="#4a2a10" />
      <Lab x={222} y={95} t="Cyst" s={4.4} />
      <Lab x={222} y={102.7} t="23.5 %" s={4.4} />
      <Lab x={222} y={110} t="(301)" s={4.4} />
      <Lab x={351.3} y={99} t="Normal" s={4.6} />
      <Lab x={351.3} y={106} t="12.4 %" s={4.6} />
      <Lab x={351.3} y={113.3} t="(159)" s={4.6} />
      <Lab x={443.3} y={26.7} t="lncRNA" s={5.2} />
      <Lab x={444} y={96.7} t="75.4 %" s={6} c="#4a2a10" />
      <Lab x={444} y={103.7} t="(2596)" s={6} c="#4a2a10" />
      <Lab x={380.7} y={44} t="Cyst" s={5} />
      <Lab x={380.7} y={51} t="14.2 %" s={5} />
      <Lab x={380.7} y={58} t="(490)" s={5} />
      <Lab x={510} y={135} t="Normal" s={5} />
      <Lab x={510} y={141.7} t="10.4 %" s={5} />
      <Lab x={510} y={148.7} t="(357)" s={5} />
      <Lab x={615.7} y={19.3} t="mRNA" s={5.2} />
      <Lab x={618.3} y={101.3} t="83.6 % (25655)" s={6.2} c="#4a2a10" />
      <Lab x={542.7} y={39} t="Cyst" s={5} />
      <Lab x={542.7} y={46.7} t="9.4 % (2883)" s={5} />
      <Lab x={687.3} y={148} t="Normal" s={5} />
      <Lab x={687.3} y={155.3} t="7.0 % (2157)" s={5} />

      {/* E F G */}
      <Cv x={3.9} y={241} w={220} h={128.3} make={() => boxConfig(miBox, -1, 6, 1, 16, 26)} />
      <Cv x={239.5} y={243.3} w={219.5} h={128.4} make={() => boxConfig(lncBox, -2, 6, 2, 16, 26)} />
      <Cv x={478.8} y={241.7} w={218.2} h={128.6} make={() => boxConfig(mBox, -2, 5, 1, 16, 26)} />
      <Lab x={118.7} y={235.3} t="miRNA" s={6.2} f={SERIF} />
      <Lab x={354.4} y={234} t="lncRNA" s={6.2} f={SERIF} />
      <Lab x={593} y={237.3} t="mRNA" s={6.2} f={SERIF} />

      {/* H I J */}
      <Cv x={4.7} y={390.3} w={164.3} h={183.7} make={() =>
        volcanoConfig({
          blocks: [{ d: hBand, c: BLUE, order: 0 }],
          scatter: [
            { d: hNormal, c: BLUE, r: 1, order: 0 },
            { d: hUp, c: "#C8324B", r: 0.9, order: 1 },
            { d: hDown, c: YEL, r: 1.2, order: 2 },
          ],
          xMin: -8.4, xMax: 10, yMax: 40, xT: [-5, 0, 5, 10],
          yT: [0, 5, 10, 15, 20, 25, 30, 35, 40],
          yTitle: "-Log10(Padjust)", l: 16, b: 16,
        })} />
      <Cv x={239} y={390.3} w={163.3} h={183.7} make={() =>
        volcanoConfig({
          blocks: [
            { d: iBand, c: BLUE, order: 0 },
            { d: iRedBlock, c: RED, order: 3 },
          ],
          scatter: [
            { d: iNormal, c: BLUE, r: 1, order: 0 },
            { d: iUp, c: RED, r: 0.85, order: 1 },
            { d: iDown, c: YEL, r: 1.2, order: 2 },
          ],
          xMin: -22, xMax: 30, yMax: 40, xT: [-20, -10, 0, 10, 20, 30],
          yT: [0, 5, 10, 15, 20, 25, 30, 35, 40],
          yTitle: "-Log10(Padjust)", l: 16, b: 16,
        })} />
      <Cv x={476} y={391} w={164.3} h={183.3} make={() =>
        volcanoConfig({
          blocks: [
            { d: jBand, c: BLUE, order: 0 },
            { d: jDownBlock, c: YEL, order: 3 },
            { d: jUpBlock, c: RED, order: 3 },
          ],
          scatter: [
            { d: jNormal, c: BLUE, r: 1.1, order: 0 },
            { d: jOutlier, c: "#B0202E", r: 1.3, order: 1 },
            { d: jUp, c: RED, r: 0.85, order: 1 },
            { d: jDown, c: YEL, r: 1.2, order: 2 },
          ],
          xMin: -23.9, xMax: 30, yMax: 70, xT: [-20, -10, 0, 10, 20, 30],
          yT: [0, 10, 20, 30, 40, 50, 60, 70],
          yTitle: "-Log10(Padjust)", l: 16, b: 16,
        })} />
      <Lab x={98.3} y={385.7} t="miRNA" s={6} f={SERIF} />
      <Lab x={332.3} y={385.7} t="lncRNA" s={6} f={SERIF} />
      <Lab x={569.7} y={385.7} t="mRNA" s={6} f={SERIF} />
      <Lab x={40.7} y={462.3} t="103" s={7} f={SERIF} c="#F0C020" />
      <Lab x={141.3} y={462.3} t="102" s={7} f={SERIF} c="#C8324B" />
      <Lab x={287} y={461} t="41" s={7} f={SERIF} c="#F0C020" />
      <Lab x={358.3} y={461} t="538" s={7} f={SERIF} c="#C8324B" />
      <Lab x={525.3} y={462} t="4205" s={7} f={SERIF} c="#F0C020" />
      <Lab x={590} y={462} t="3798" s={7} f={SERIF} c="#C8324B" />
      <Legend dot={173.3} tx={178} />
      <Legend dot={408} tx={412.7} />
      <Legend dot={645.7} tx={649.7} />

      {/* K L M */}
      <HeatPanel cx={48.7} cy={643.3} cw={103.3} ch={134} rows={kRows} topTree={kTop} topH={107} topY={602.7} stripY={639} stripH={3.7}
        stripX={44.3} stripW={4} sizes={kStrip} colors={kStripColors} left={kLeft} leftX={17.3} leftW={27} leftMax={81} twigs={kTwigs}
        bar={[166, 604.3, 4.3, 21.4]} labelY={780} labelSize={3.6} />
      <Cv x={153} y={643.3} w={5} h={134} make={() => stripConfig([1], ["#ececec"], false)} />
      <HeatPanel cx={278.3} cy={643.3} cw={105} ch={134} rows={lRows} topTree={lTop} topH={109} topY={602.7} stripY={639.3} stripH={3.7}
        stripX={274} stripW={4} sizes={lStrip} colors={lStripColors} left={lLeft} leftX={246.7} leftW={27} leftMax={82} twigs={lTwigs}
        bar={[395.7, 605, 4.3, 20.7]} labelY={780} labelSize={3.6} />
      <Cv x={385} y={643.3} w={1.4} h={134} make={() => stripConfig([1], ["#aebfd0"], false)} />
      <HeatPanel cx={514} cy={641} cw={109.3} ch={135.7} rows={mRows} topTree={mTop} topH={110} topY={600} stripY={637} stripH={3.7}
        stripX={509.3} stripW={4} sizes={mStrip} colors={mStripColors} left={mLeft} leftX={479.7} leftW={29} leftMax={87} twigs={mTwigs}
        bar={[633.3, 601.7, 4.3, 21]} labelY={779.5} labelSize={4.4} />
      <Lab x={95} y={599} t="miRNA" s={3.8} f={SERIF} c="#444" />
      <Lab x={328.3} y={600.7} t="lncRNA" s={3.8} f={SERIF} c="#444" />
      <Lab x={565} y={595.7} t="mRNA" s={4.4} f={SERIF} c="#444" />

      {/* letters */}
      {[["A",7.5,10],["B",215,9.5],["C",375.7,9],["D",528.3,9],["E",8,226],["F",238.4,226.7],["G",475,226.7],["H",9,374.3],["I",236,374.3],["J",473.3,374.3],["K",8.7,604.3],["L",237.7,604.3],["M",476,604.3]].map(([t,x,y]: any) => (
        <Lab key={t} x={x} y={y} t={t} s={11.5} b c="#000" />
      ))}
    </div>
  );
}
